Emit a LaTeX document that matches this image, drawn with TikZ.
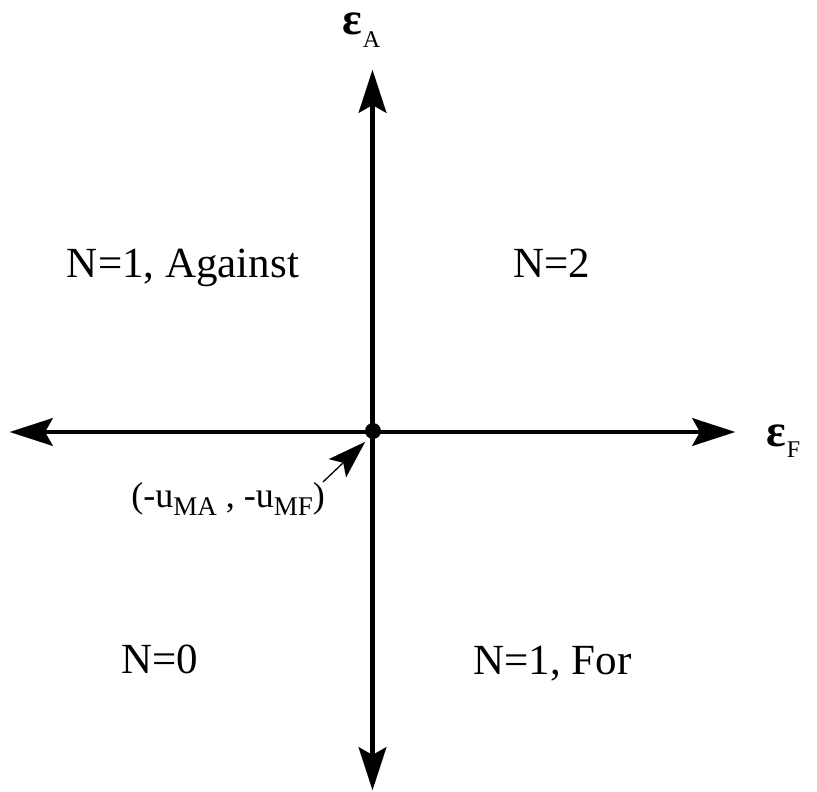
\documentclass[tikz,border=0pt]{standalone}
\usepackage{fontspec}
\setmainfont{Liberation Serif}
\usetikzlibrary{arrows.meta}
\tikzset{
  bigtip/.tip={Stealth[length=43pt,width=28pt,inset=8pt,line width=0.01pt]},
  smalltip/.tip={Stealth[length=38pt,width=25pt,inset=8pt,line width=0.01pt]},
  axisline/.style={line width=4.5pt,{bigtip}-{bigtip}},
  ptrline/.style={line width=1.3pt,-{smalltip}},
  region/.style={inner sep=0pt,anchor=base,font=\fontsize{43}{43}\selectfont},
  greek/.style={inner sep=0pt,anchor=base west,font=\fontsize{46}{46}\selectfont\bfseries},
  subs/.style={inner sep=0pt,anchor=base west,font=\fontsize{24}{24}\selectfont},
  dotnode/.style={circle,fill=black,inner sep=0pt,minimum size=16pt}
}
\begin{document}
\begin{tikzpicture}[x=1pt,y=-1pt]
\useasboundingbox (0,0) rectangle (817,792);
% axes
\coordinate (L) at (10,432);
\coordinate (R) at (735,432);
\coordinate (T) at (372.5,70);
\coordinate (B) at (372.5,790);
\draw[axisline] (L) -- (R);
\draw[axisline] (B) -- (T);
\node[dotnode] (O) at (373,431) {};
% axis labels
\node[greek] (epsA) at (342,35) {ε};
\node[subs] (subA) at (epsA.base east) [yshift=-13pt,xshift=0.5pt] {A};
\node[greek] (epsF) at (766,446) {ε};
\node[subs] (subF) at (epsF.base east) [yshift=-11pt,xshift=0.5pt] {F};
% region labels
\node[region] (q2) at (183,277) {N=1, Against};
\node[region] (q1) at (551.5,277) {N=2};
\node[region] (q3) at (160,673) {N=0};
\node[region] (q4) at (552.5,674) {N=1, For};
% origin label
\node[inner sep=0pt,anchor=base east,font=\fontsize{36}{36}\selectfont] (lab) at (325,507)
  {(-u\raisebox{-8pt}{\fontsize{27}{27}\selectfont MA} , -u\raisebox{-8pt}{\fontsize{27}{27}\selectfont MF})};
\coordinate (ptr) at (323,482);
\coordinate (ptrtip) at (365,442);
\draw[ptrline] (ptr) -- (ptrtip);
\end{tikzpicture}
\end{document}
